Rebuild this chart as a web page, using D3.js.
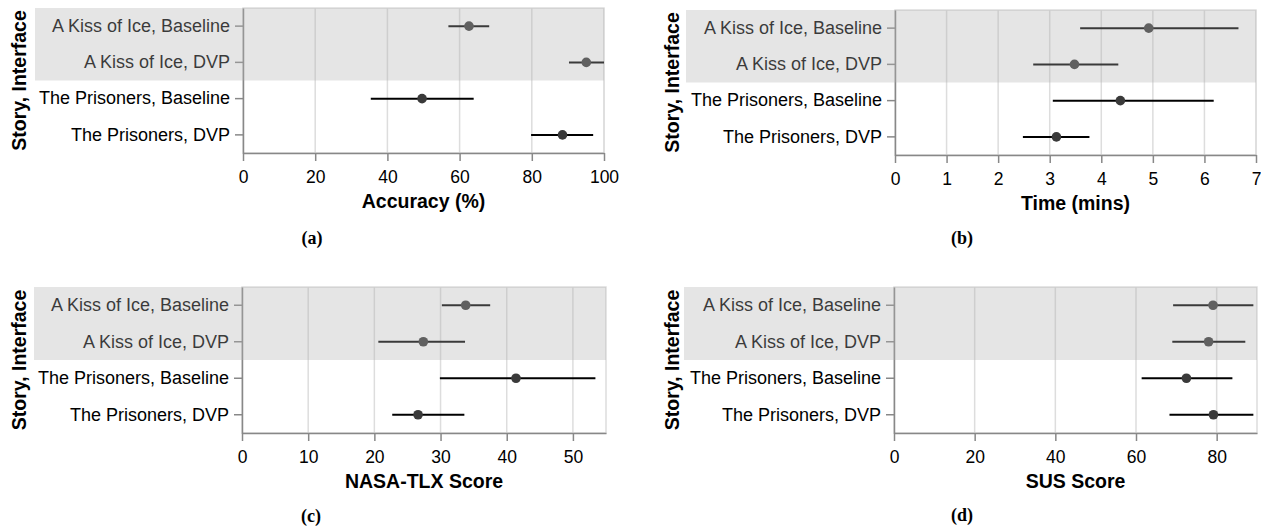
<meta charset="utf-8">
<title>Story, Interface results</title>
<script src="https://d3js.org/d3.v7.min.js"></script>
<style>
  body {
    margin: 0;
    background: #fff;
  }
  svg {
    display: block;
    font-family: 'Liberation Sans', Arial, sans-serif;
  }
</style>
<body>
<svg width="1261" height="527"></svg>
<script>

  const rows = [
    'A Kiss of Ice, Baseline',
    'A Kiss of Ice, DVP',
    'The Prisoners, Baseline',
    'The Prisoners, DVP'
  ]

  // first story gets the grey band
  const shadedRows = rows.slice(0, 2)

  const
    accMean = [62.6, 95.1, 49.6, 88.5],
    accLo = [56.9, 90.3, 35.4, 79.8],
    accHi = [68.2, 100, 63.9, 97.0],
    accTicks = [0, 20, 40, 60, 80, 100],

    timeMean = [4.92, 3.48, 4.37, 3.13],
    timeLo = [3.59, 2.68, 3.06, 2.48],
    timeHi = [6.66, 4.33, 6.18, 3.77],
    timeTicks = [0, 1, 2, 3, 4, 5, 6, 7],

    tlxMean = [33.8, 27.4, 41.4, 26.6],
    tlxLo = [30.2, 20.6, 29.9, 22.7],
    tlxHi = [37.5, 33.7, 53.4, 33.6],
    tlxTicks = [0, 10, 20, 30, 40, 50],

    susMean = [79.1, 78.0, 72.5, 79.2],
    susLo = [69.2, 69.0, 61.4, 68.3],
    susHi = [89.1, 87.1, 83.9, 89.1],
    susTicks = [0, 20, 40, 60, 80]

  const panels = [
    { mean: accMean, lo: accLo, hi: accHi, domain: [0, 100], ticks: accTicks, title: 'Accuracy (%)', caption: '(a)',
      left: 243, right: 604, top: 8, bottom: 153, bandLeft: 35, yTitleX: 19, capX: 312, capY: 238 },
    { mean: timeMean, lo: timeLo, hi: timeHi, domain: [0, 7], ticks: timeTicks, title: 'Time (mins)', caption: '(b)',
      left: 895, right: 1256, top: 10, bottom: 155, bandLeft: 686, yTitleX: 672, capX: 962, capY: 238 },
    { mean: tlxMean, lo: tlxLo, hi: tlxHi, domain: [0, 55], ticks: tlxTicks, title: 'NASA-TLX Score', caption: '(c)',
      left: 242, right: 606, top: 287, bottom: 433, bandLeft: 34, yTitleX: 19, capX: 311, capY: 516 },
    { mean: susMean, lo: susLo, hi: susHi, domain: [0, 90], ticks: susTicks, title: 'SUS Score', caption: '(d)',
      left: 894, right: 1257, top: 287, bottom: 433, bandLeft: 684, yTitleX: 672, capX: 962, capY: 515 }
  ]

  const svg = d3.select('svg')

  const drawPanel = p => {
    const x = d3.scaleLinear().domain(p.domain).range([p.left, p.right]),
          y = d3.scaleBand().domain(rows).range([p.top, p.bottom]),
          g = svg.append('g')

    // view frame
    g.append('rect')
      .attr('x', p.left).attr('y', p.top)
      .attr('width', p.right - p.left).attr('height', p.bottom - p.top)
      .attr('fill', 'none').attr('stroke', '#ddd').attr('stroke-width', 1.5)

    g.selectAll('.grid')
      .data(p.ticks)
      .join('line')
      .attr('x1', d => x(d)).attr('x2', d => x(d))
      .attr('y1', p.top).attr('y2', p.bottom)
      .attr('stroke', '#ddd').attr('stroke-width', 1.5)

    const xAxis = g.append('g')
      .attr('transform', `translate(0,${p.bottom})`)
      .call(d3.axisBottom(x).tickValues(p.ticks).tickFormat(d3.format('d'))
        .tickSize(8).tickSizeOuter(0).tickPadding(10))

    const yAxis = g.append('g')
      .attr('transform', `translate(${p.left},0)`)
      .call(d3.axisLeft(y).tickSize(8).tickSizeOuter(0).tickPadding(5))

    ;[xAxis, yAxis].forEach(a => {
      a.attr('font-family', null).attr('font-size', null)
      a.selectAll('path, line').attr('stroke', '#888').attr('stroke-width', 1.5)
      a.selectAll('text').attr('fill', '#000')
    })
    xAxis.selectAll('text').style('font-size', '17.5px')
    yAxis.selectAll('text').style('font-size', '18px')

    g.append('text')
      .attr('x', (p.left + p.right) / 2).attr('y', p.bottom + 48)
      .attr('dy', '0.35em')
      .attr('text-anchor', 'middle')
      .style('font-size', '19.5px').style('font-weight', 'bold')
      .text(p.title)

    g.append('text')
      .attr('transform', `translate(${p.yTitleX},${(p.top + p.bottom) / 2}) rotate(-90)`)
      .attr('dy', '0.35em')
      .attr('text-anchor', 'middle')
      .style('font-size', '19.5px').style('font-weight', 'bold')
      .text('Story, Interface')

    g.selectAll('.err')
      .data(rows)
      .join('line')
      .attr('x1', (d, i) => x(p.lo[i])).attr('x2', (d, i) => x(p.hi[i]))
      .attr('y1', d => y(d) + y.bandwidth() / 2).attr('y2', d => y(d) + y.bandwidth() / 2)
      .attr('stroke', '#000').attr('stroke-width', 2)

    g.selectAll('.pt')
      .data(rows)
      .join('circle')
      .attr('cx', (d, i) => x(p.mean[i]))
      .attr('cy', d => y(d) + y.bandwidth() / 2)
      .attr('r', 4.8)
      .attr('fill', '#3a3a3a')

    // translucent band over the first story
    g.append('rect')
      .attr('x', p.bandLeft).attr('y', p.top)
      .attr('width', p.right - p.bandLeft)
      .attr('height', y.bandwidth() * shadedRows.length)
      .attr('fill', '#b0b0b0').attr('opacity', 0.33)

    g.append('text')
      .attr('x', p.capX).attr('y', p.capY)
      .attr('dy', '0.35em')
      .attr('text-anchor', 'middle')
      .style('font-family', "'Liberation Serif', 'DejaVu Serif', serif")
      .style('font-size', '18px').style('font-weight', 'bold')
      .text(p.caption)
  }

  panels.forEach(drawPanel)

</script>
</body>
